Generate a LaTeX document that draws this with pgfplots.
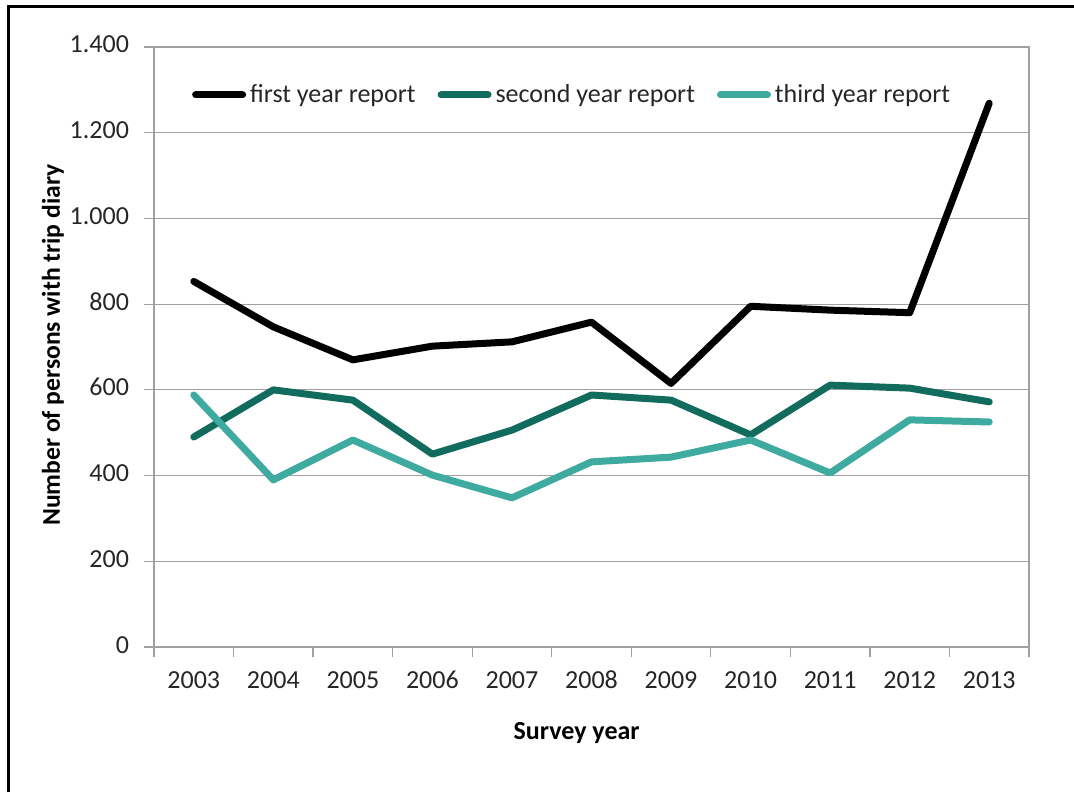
\documentclass[border=0pt]{standalone}
\usepackage{pgfplots}
\pgfplotsset{compat=1.18}
\usepackage{fontspec}
\setmainfont{Carlito}
\definecolor{dteal}{RGB}{18,108,94}
\definecolor{lteal}{RGB}{62,170,160}
\definecolor{axgray}{RGB}{160,160,160}
\begin{document}
\begin{tikzpicture}[x=1pt,y=1pt]
\path[use as bounding box] (0,0) rectangle (537,396);
\draw[line width=1.5pt] (4,0) -- (4,392.5) -- (537,392.5);
\begin{axis}[at={(77pt,72.5pt)}, anchor=south west, scale only axis,
  width=437.5pt, height=300pt,
  xmin=-0.5, xmax=10.5, ymin=0, ymax=1400,
  xtick={0,...,10},
  xticklabels={2003,2004,2005,2006,2007,2008,2009,2010,2011,2012,2013},
  major x tick style={draw=none},
  minor xtick={-0.5,0.5,...,10.5},
  ytick={0,200,...,1400},
  yticklabels={0,200,400,600,800,{1.000},{1.200},{1.400}},
  ymajorgrids,
  grid style={axgray, line width=0.6pt},
  axis line style={axgray, line width=0.6pt},
  tick style={axgray, line width=0.6pt},
  tick align=outside, major tick length=5pt, minor tick length=5pt,
  xtick pos=bottom, ytick pos=left,
  typeset ticklabels with strut,
  ticklabel style={font=\fontsize{13}{15}\selectfont, text=black!85},
  xticklabel style={yshift=-1.5pt},
  yticklabel style={xshift=-4pt},
  xlabel={\bfseries Survey year},
  xlabel style={at={(axis description cs:0.483,0)}, anchor=center, yshift=-43pt, font=\fontsize{13}{15}\selectfont},
  ylabel={\bfseries Number of persons with trip diary},
  ylabel style={at={(axis description cs:0,0.503)}, anchor=center, yshift=50.5pt, font=\fontsize{12.8}{15}\selectfont},
  legend style={at={(axis description cs:0.479,0.92)}, anchor=center, draw=none, fill=none,
    font=\fontsize{13}{15}\selectfont, text=black!85,
    /tikz/every even column/.append style={column sep=9pt}},
  legend columns=3,
  legend image code/.code={\draw[#1, line cap=round] (0pt,0pt) -- (23.5pt,0pt);},
]
\addplot[black, line width=3.5pt, line join=round, line cap=round] coordinates {
(0,853) (1,747) (2,670) (3,702) (4,712) (5,758) (6,615) (7,795) (8,786) (9,780) (10,1269)};
\addlegendentry{first year report}
\addplot[dteal, line width=3.5pt, line join=round, line cap=round] coordinates {
(0,490) (1,600) (2,576) (3,450) (4,506) (5,588) (6,576) (7,495) (8,611) (9,604) (10,572)};
\addlegendentry{second year report}
\addplot[lteal, line width=3.5pt, line join=round, line cap=round] coordinates {
(0,588) (1,390) (2,483) (3,401) (4,348) (5,432) (6,443) (7,483) (8,406) (9,530) (10,525)};
\addlegendentry{third year report}
\end{axis}
\end{tikzpicture}
\end{document}
